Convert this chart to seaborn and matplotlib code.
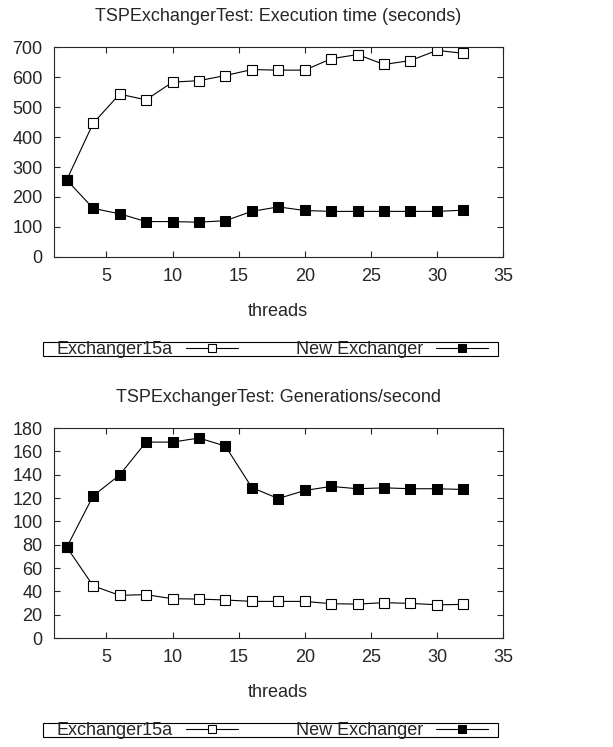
import numpy as np
import pandas as pd
import seaborn as sns
import matplotlib
matplotlib.use("Agg")
import matplotlib.pyplot as plt
from matplotlib.patches import Rectangle

# data
threads = [2, 4, 6, 8, 10, 12, 14, 16, 18, 20, 22, 24, 26, 28, 30, 32]
exec_old = [257, 446, 543, 524, 583, 588, 605, 625, 623, 623, 661, 675, 642, 655, 689, 679]
exec_new = [257, 162, 144, 118, 118, 116, 121, 152, 167, 155, 152, 152, 152, 152, 152, 156]
gens_old = [78, 44.7, 36.6, 37.2, 33.7, 33.4, 32.6, 31.4, 31.4, 31.4, 29.4, 29.1, 30.3, 29.7, 28.5, 28.8]
gens_new = [77.8, 121.9, 139.8, 168, 168, 171.5, 164.6, 129, 119.6, 126.5, 130, 128, 128.8, 128, 128, 127.4]

sns.set_style("ticks")
plt.rcParams['font.family'] = ['Liberation Sans', 'DejaVu Sans']
plt.rcParams['font.size'] = 13
plt.rcParams['xtick.direction'] = 'in'
plt.rcParams['ytick.direction'] = 'in'
plt.rcParams['xtick.top'] = True
plt.rcParams['ytick.right'] = True
plt.rcParams['xtick.major.size'] = 4
plt.rcParams['ytick.major.size'] = 4
plt.rcParams['axes.linewidth'] = 0.8


def panel(ax, old, new, title, yticks):
    df = pd.DataFrame({'threads': threads, 'old': old, 'new': new})
    sns.lineplot(data=df, x='threads', y='old', ax=ax, color='black', lw=0.8,
                 marker='s', markersize=7, markerfacecolor='white',
                 markeredgecolor='black', markeredgewidth=0.8, label='Exchanger15a')
    sns.lineplot(data=df, x='threads', y='new', ax=ax, color='black', lw=0.8,
                 marker='s', markersize=7, markerfacecolor='black',
                 markeredgecolor='black', label='New Exchanger')
    ax.set_xlim(1, 35)
    ax.set_xticks([5, 10, 15, 20, 25, 30, 35])
    ax.set_ylim(0, yticks[-1])
    ax.set_yticks(yticks)
    ax.set_xlabel('threads', labelpad=13)
    ax.set_ylabel('')
    ax.set_title(title, pad=19, fontsize=13)
    ax.tick_params(labelsize=13, pad=8)
    ax.get_legend().remove()


fig = plt.figure(figsize=(6.13, 7.47), dpi=100)
ax1 = fig.add_axes([0.0873, 0.656, 0.7333, 0.281])
ax2 = fig.add_axes([0.0873, 0.1459, 0.7333, 0.281])

panel(ax1, exec_old, exec_new, 'TSPExchangerTest: Execution time (seconds)',
      [0, 100, 200, 300, 400, 500, 600, 700])
panel(ax2, gens_old, gens_new, 'TSPExchangerTest: Generations/second',
      [0, 20, 40, 60, 80, 100, 120, 140, 160, 180])

W, H = 613, 747
for ax, ytop in [(ax1, 342), (ax2, 723)]:
    fig.patches.append(Rectangle((43 / W, 1 - (ytop + 14) / H), 455 / W, 14 / H,
                                 transform=fig.transFigure, fill=False,
                                 edgecolor='black', lw=0.8))
    h, l = ax.get_legend_handles_labels()
    leg = fig.legend(h, l, ncol=2, markerfirst=False, frameon=False,
                     loc='center left', bbox_to_anchor=(57 / W, 1 - (ytop + 7.5) / H),
                     borderpad=0, borderaxespad=0, handlelength=2.9,
                     handletextpad=0.7, columnspacing=3.2, fontsize=13,
                     markerscale=0.8)

fig.savefig('out.png', dpi=100)
